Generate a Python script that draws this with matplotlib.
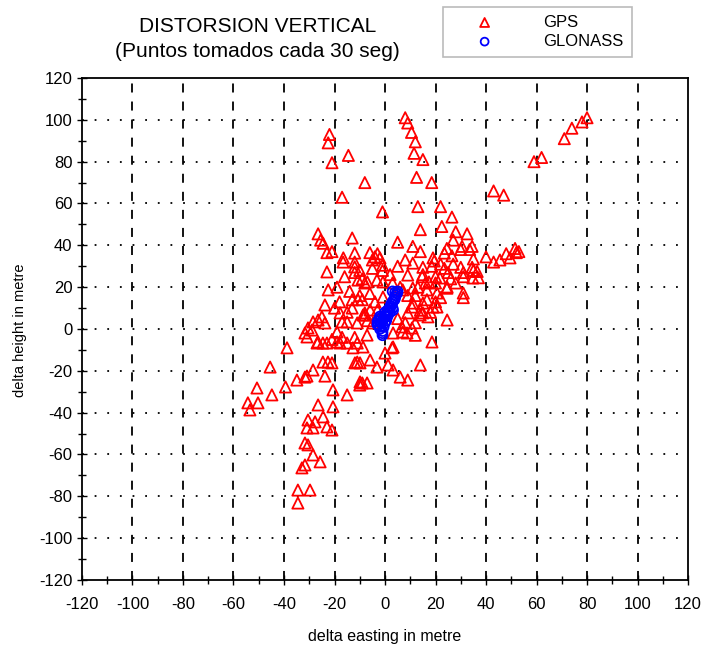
import numpy as np
import matplotlib.pyplot as plt
from matplotlib.ticker import MultipleLocator

# GPS points (delta easting, delta height)
gps_x = [80, 78, 74, 71, 62, 59, 43, 47,
         8, 9, 10.5, 12, 11.5, 15, 12.5, 18.5, 13, 22, 26.5, 14, 22.5, 28, 32.5, 5, 11, 14, -1,
         24.5, 27, 30.5, 34.5, 19, 23.5, 26.5, 30, 33.5, 35, 40, 43, 45.5, 48, 51.5, 53, 49.5, 52,
         19.5, 23.5, 31, 35, 37, 24.5, 31, 15, 20, 30, 34.5, 36.5, 11, 15, 18.5,
         -22, -22.5, -14.5, -21, -8, -17, -26.5, -25.5, -13, -24.5, -23, -21, -16.5, -12, -6, -4,
         -3, -2, -16.6, -12, -5, -1, -10, -5, -1, -23, -12,
         9, 14.7, 17.4, 21.8, 31, 34.8, -10.7, -3.2, -0.8, -7, -22.5, -13, -10.7, -9, -0.8, 11,
         16.6, 20.6, 24.6, 31, -23.8, -17.8, -8.7, -5.9, 10.7, 15, 19, 13.9, 17, -28.5, -25,
         -23.8, -17, -11, -4.8, 6.7, 10.7, -31.7, -30.5, -19, -7.1, 3.2, 8.7, 24.6, -26.9, -24.6,
         -19, -15, -11, -38.8, 3.2, -8, 7, 13, 11, 16.6, 20.6, -8, 9, 15, 7, 12, 18.6, 2.8, 0,
         -5.9, -3.2, 1.2, 3.2, 6, 9, 14, -9, -15, -26.5, -7.9, -30.9, -28.9, -26.5, -23, -17.8,
         -12.7, -8.7,
         5, 8, 12, 14, 18, 20, 22, 6, 3, 9, 12, 16, 20, 25, 27, 22, 28, -20, -18, -15, -13, -10,
         -14, -19, -16, -12, -9, -6, -4, -3, -7, -12, -17, -21, 2, 5, 8, 26,
         -45.5, -50.7, -44.8, -54.3, -50.3, -53.5, -39.4, -34.9, -31.7, -28.5, -23.8, -30.9,
         -24.6, -22.6, -21, -11.9, -9.9, -20.6, -15, -9.9, -11, -26.5, -20.6, -30.5, -27.7,
         -24.5, -30.9, -28.5, -23, -21, -31.7, -30.5, -28.5, -25.7, -32.9, -31.7, -34.5, -29.7,
         -34.5, -7.1, -10]
gps_y = [101, 99, 96, 91, 82, 80, 66, 64,
         101, 98.5, 94, 89.5, 84, 81, 72.5, 70, 58.5, 58.5, 53.5, 47.5, 49, 46.5, 45.5, 41.5, 39.5, 37, 56,
         38.5, 42.5, 39.5, 39.5, 34, 36.3, 35, 38, 38, 33.5, 34.5, 32, 33, 36, 38.5, 37, 34, 36.5,
         32.5, 29, 27, 28, 24.5, 19.5, 15, 26, 25, 29.5, 29.5, 27.5, 31.5, 29.5, 30,
         93, 89, 83, 79.5, 70, 63, 45.5, 42.5, 43.5, 41, 36.5, 37, 34, 36.3, 36.5, 34.5,
         36, 34, 32, 32, 33, 30.5, 28, 29, 28, 27.3, 29.7,
         25.8, 25, 22.5, 24.4, 25, 24.4, 23.4, 23.4, 22.5, 22.5, 18.7, 14, 14, 14, 15.3, 19.6,
         18.7, 17.2, 20.1, 17.2, 11.5, 7.7, 6.7, 9.1, 10.5, 12.4, 10.5, 6.7, 5.8, 3.4, 5.8,
         2.9, 3.4, 2.9, 2.9, 1, 0.5, -1.9, 0.5, -1.4, -2.9, -1.9, -1.9, 4.3, -6.7, -6.7,
         -6.2, -6.7, -6.7, -9, -8.6, 22, 18.7, 20, 12.4, 14, 10.5, 7.7, 7.7, 7.7, -1.4, -3, -6.2, -9, -11.5,
         -14.8, -18.2, -17.2, -19.6, -23, -24.4, -17.2, -25.8, 3.4, 4.3, 6.7, -3.8, -0.5, -6.2, -6.7, -6.7,
         -9, -8.6,
         5, 3, 3, 9, 8, 13, 15, 20, 22, 16, 16, 22, 22, 27, 31, 31, 22, 10, 13, 8, 10, 16,
         18, 20, 25, 27, 24, 17, 13, 9, 4, -4, -4, -5, 26, 30, 33, 24,
         -18.2, -28.2, -31.5, -35.3, -35.3, -38.7, -27.7, -24.4, -23, -19.6, -22.5, -22.5,
         -15.8, -15.8, -16.2, -16.2, -16.2, -29.1, -31.5, -25.3, -15.8, -36.3, -37.2, -43.5, -44.4,
         -42, -47.3, -47.3, -46.8, -48.3, -54.5, -55.4, -60.2, -63.5, -66.4, -65, -77, -77,
         -83.2, -25.8, -26.8]

# GLONASS points, tight band near the origin
glo_x = [-1, -1, -2, -2, -2.5, -1.5, -1, -0.5, 0, 0.5, 1, 1.5, 2, 2.2, 2.8, 3, 3.5, 4, 4.2, 4.8,
         5, 3, 4, -3, -3, -2.5, -1.5, 0, 1, 2, 3, 3.2, 1, -2, 0, -1, 0.5, 2.5, 3.8, -0.5]
glo_y = [-3, -2, 0, 1, 2, 3, 4, 5, 6, 7, 8, 9, 10, 11, 12, 13, 14, 15, 16, 17,
         18, 18, 17.5, 2, 3.5, 4.5, 5.5, 3, 6, 8, 10, 9, 9, 6, 8, -1, 4, 12, 14, 1]

plt.rcParams['font.family'] = ['Liberation Sans', 'DejaVu Sans']
plt.rcParams['axes.unicode_minus'] = False

fig = plt.figure(figsize=(7.11, 6.5), dpi=100)
ax = fig.add_axes([0.1153, 0.1077, 0.8524, 0.7723])

ax.set_xlim(-120, 120)
ax.set_ylim(-120, 120)

for v in range(-100, 101, 20):
    ax.axvline(v, color='black', lw=1.3, ls=(0, (5, 5)), zorder=1)
    ax.axhline(v, color='black', lw=1.3, ls=(0, (1, 6)), zorder=1)

gps = ax.scatter(gps_x, gps_y, marker='^', s=65, facecolors='none',
                 edgecolors='red', linewidths=1.3, zorder=3, label='GPS')
glo = ax.scatter(glo_x, glo_y, marker='o', s=50, facecolors='none',
                 edgecolors='blue', linewidths=1.3, zorder=4, label='GLONASS')

ax.xaxis.set_major_locator(MultipleLocator(20))
ax.xaxis.set_minor_locator(MultipleLocator(10))
ax.yaxis.set_major_locator(MultipleLocator(20))
ax.yaxis.set_minor_locator(MultipleLocator(10))
ax.tick_params(which='both', direction='inout', length=7, width=1, labelsize=12)
ax.tick_params(which='minor', length=6)
ax.tick_params(axis='x', pad=9)
for s in ax.spines.values():
    s.set_linewidth(1.3)

ax.set_xlabel('delta easting in metre', fontsize=11.5, labelpad=12)
fig.text(0.028, 0.492, 'delta height in metre', rotation=90, fontsize=10.5,
         ha='center', va='center')

fig.text(0.362, 0.94, 'DISTORSION VERTICAL\n(Puntos tomados cada 30 seg)',
         ha='center', va='center', fontsize=15, linespacing=1.4)

leg = fig.legend(handles=[gps, glo], loc='upper left', bbox_to_anchor=(0.623, 0.99),
                 fontsize=12, frameon=True, fancybox=False, handletextpad=1.5,
                 borderpad=0.5, labelspacing=0.25, borderaxespad=0, handlelength=4,
                 scatterpoints=1, markerscale=0.8)
leg.get_frame().set_edgecolor('#aaaaaa')
leg.get_frame().set_linewidth(1.2)

fig.savefig('out.png', dpi=100)
